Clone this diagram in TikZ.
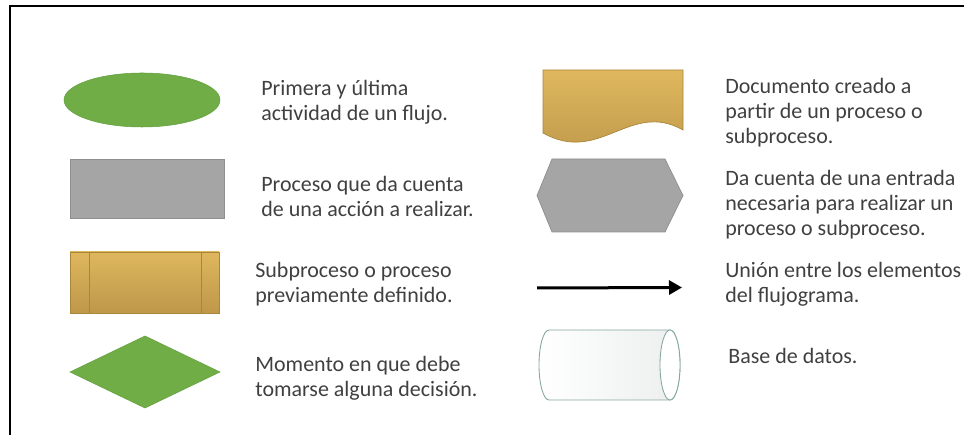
\documentclass[tikz,border=0pt]{standalone}
\usepackage{fontspec}
\setmainfont{Carlito}
\usepackage{xcolor}
\usepackage{tikz}
\usetikzlibrary{arrows.meta}
\usetikzlibrary{shapes,positioning}

\definecolor{flowgreen}{HTML}{70AD47}
\definecolor{greenline}{HTML}{64A03E}
\definecolor{flowgray}{HTML}{A5A5A5}
\definecolor{grayline}{HTML}{8E8E8E}
\definecolor{goldlight}{HTML}{DEB75E}
\definecolor{golddark}{HTML}{BE974A}
\definecolor{goldline}{HTML}{A98639}
\definecolor{cylline}{HTML}{86A7A1}
\definecolor{cylbody}{HTML}{ECEFEE}
\definecolor{txtgray}{HTML}{404040}

\tikzset{
  txt/.style={inner sep=0pt, align=left, text=txtgray,
    font=\fontsize{12.5}{14.2}\selectfont, execute at begin node=\strut},
  box/.style={inner sep=0pt, outer sep=0pt},
  greenfill/.style={box, fill=flowgreen, draw=greenline, line width=0.3pt},
  grayfill/.style={box, fill=flowgray, draw=grayline, line width=0.4pt},
  goldfill/.style={box, top color=goldlight, bottom color=golddark, draw=goldline, line width=0.4pt},
  cylfill/.style={draw=cylline, line width=0.5pt},
}

\begin{document}
\begin{tikzpicture}

\useasboundingbox (0,0) rectangle (19.28,-8.7);
\draw[line width=0.04cm] (0.2,-8.7) -- (0.2,-0.12) -- (19.28,-0.12);

\coordinate(O1) at (0,0);

% left column
\node[greenfill, ellipse, minimum width=3.12cm, minimum height=1.08cm] (ell) at (2.84,-2.0) {};
\node[grayfill, below right=3.18cm and 1.4cm of O1, minimum width=3.08cm, minimum height=1.18cm] (proc) {};
\node[goldfill, below right=5.04cm and 1.4cm of O1, minimum width=2.98cm, minimum height=1.22cm] (sub) {};
\draw[goldline, line width=0.5pt] ([xshift=0.38cm]sub.north west) -- ([xshift=0.38cm]sub.south west);
\draw[goldline, line width=0.5pt] ([xshift=-0.36cm]sub.north east) -- ([xshift=-0.36cm]sub.south east);
\node[greenfill, diamond, minimum width=3.0cm, minimum height=1.44cm] (dia) at (2.9,-7.44) {};

\node[txt, below right=1.596cm and 5.22cm of O1] (tell) {Primera y última\\actividad de un flujo.};
\node[txt, below right=3.51cm and 5.22cm of O1] (tproc) {Proceso que da cuenta\\de una acción a realizar.};
\node[txt, below right=5.23cm and 5.1cm of O1] (tsub) {Subproceso o proceso\\previamente definido.};
\node[txt, below right=7.124cm and 5.1cm of O1] (tdia) {Momento en que debe\\tomarse alguna decisión.};

% right column
\node[box, below right=1.4cm and 10.86cm of O1, minimum width=2.8cm, minimum height=1.44cm] (doc) {};
\draw[goldfill] (doc.north west) -- (doc.north east) -- ([yshift=0.24cm]doc.south east)
  .. controls ([xshift=-1.06cm, yshift=0.84cm]doc.south east) and ([xshift=1.14cm, yshift=-0.46cm]doc.south west)
  .. ([yshift=0.18cm]doc.south west) -- cycle;

\node[box, below right=3.18cm and 10.74cm of O1, minimum width=2.92cm, minimum height=1.46cm] (hex) {};
\draw[grayfill] ([xshift=0.3cm]hex.north west) -- ([xshift=-0.36cm]hex.north east) -- (hex.east)
  -- ([xshift=-0.36cm]hex.south east) -- ([xshift=0.3cm]hex.south west) -- (hex.west) -- cycle;

\coordinate (a1) at (10.74,-5.76);
\coordinate (a2) at (13.64,-5.75);
\draw[-{Triangle[length=0.26cm, width=0.28cm]}, line width=0.06cm] (a1) -- (a2);

\node[box, below right=6.6cm and 10.78cm of O1, minimum width=2.82cm, minimum height=1.4cm] (cyl) {};
\draw[cylfill, left color=white, right color=cylbody] ([xshift=0.2cm]cyl.north west) -- ([xshift=-0.2cm]cyl.north east)
  arc (90:-90:0.2cm and 0.7cm) -- ([xshift=0.2cm]cyl.south west) arc (270:90:0.2cm and 0.7cm) -- cycle;
\draw[cylfill, fill=white] ([xshift=-0.2cm]cyl.east) ellipse (0.2cm and 0.7cm);

\node[txt, below right=1.55cm and 14.5cm of O1] (tdoc) {Documento creado a\\partir de un proceso o\\subproceso.};
\node[txt, below right=3.396cm and 14.5cm of O1] (thex) {Da cuenta de una entrada\\necesaria para realizar un\\proceso o subproceso.};
\node[txt, below right=5.23cm and 14.5cm of O1] (tarr) {Unión entre los elementos\\del flujograma.};
\node[txt, below right=6.916cm and 14.56cm of O1] (tcyl) {Base de datos.};

\end{tikzpicture}
\end{document}
